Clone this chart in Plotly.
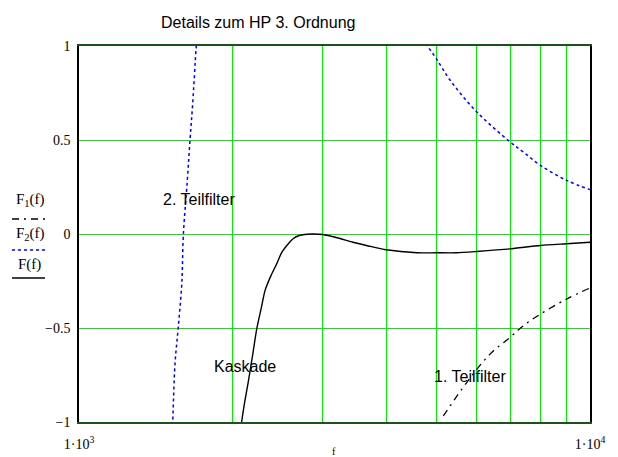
import plotly.graph_objects as go

# ---- data ----
f_F = [2060, 2081, 2108, 2145, 2185, 2227, 2271, 2312, 2376, 2437, 2491, 2568, 2624, 2700,
       2850, 3000, 3200, 3437, 3700, 3990, 4585, 5000, 5483, 6000, 6973, 8000, 9000, 10000]
F = [-1.1, -1.0, -0.9, -0.784, -0.65, -0.506, -0.4, -0.301, -0.22, -0.159, -0.1, -0.052,
     -0.025, -0.008, 0.0, -0.003, -0.02, -0.044, -0.065, -0.084, -0.1, -0.1, -0.1, -0.093,
     -0.079, -0.061, -0.052, -0.044]

f_F1 = [5164, 5737, 6373, 6973, 7404, 8000, 9000, 10000]
F1 = [-0.968, -0.79, -0.639, -0.55, -0.488, -0.426, -0.346, -0.287]

f_F2a = [1520, 1525, 1541, 1564, 1589, 1600, 1629, 1649, 1669, 1694, 1700]
F2a = [-1.05, -1.0, -0.692, -0.497, -0.266, -0.008, 0.285, 0.499, 0.694, 0.979, 1.03]
f_F2b = [4700, 4827, 5000, 5321, 6000, 6973, 7404, 8000, 9000, 10000]
F2b = [1.04, 0.993, 0.934, 0.819, 0.65, 0.49, 0.436, 0.365, 0.285, 0.236]

x_grid = [1000, 2000, 3000, 4000, 5000, 6000, 7000, 8000, 9000, 10000]
x_ticktext = ["1\u00b710<sup>3</sup>", "", "", "", "", "", "", "", "", "1\u00b710<sup>4</sup>"]
y_ticks = [-1, -0.5, 0, 0.5, 1]
y_ticktext = ["\u22121", "\u22120.5", "0", "0.5", "1"]

# page has an 8px body margin; work in page pixels and convert
OFF = 8
W, H = 618 - OFF, 457 - OFF
L, R, T, B = 79 - OFF, 590 - OFF, 46 - OFF, 422 - OFF

def px(x):
    return (x - OFF - L) / (R - L)

def py(y):
    return (B - (y - OFF)) / (B - T)

fig = go.Figure()
fig.add_trace(go.Scatter(x=f_F2a, y=F2a, mode="lines",
                         line=dict(color="#0000ff", width=1.5, dash="3px,3px", shape="spline")))
fig.add_trace(go.Scatter(x=f_F2b, y=F2b, mode="lines",
                         line=dict(color="#0000ff", width=1.5, dash="3px,3px", shape="spline")))
fig.add_trace(go.Scatter(x=f_F1, y=F1, mode="lines",
                         line=dict(color="black", width=1.3, dash="7px,5px,2px,5px", shape="spline")))
fig.add_trace(go.Scatter(x=f_F, y=F, mode="lines",
                         line=dict(color="black", width=1.4, shape="spline", smoothing=0.6)))

serif = "Liberation Serif"
sans = "Liberation Sans"

fig.update_xaxes(type="log", range=[3, 4], tickvals=x_grid, ticktext=x_ticktext,
                 showgrid=True, gridcolor="#00ee00", gridwidth=1.2,
                 showline=True, linecolor="#1f4f1f", linewidth=1.5, mirror=True,
                 ticks="", ticklabelstandoff=8, automargin=False,
                 tickfont=dict(family=serif, size=14, color="black"),
                 zeroline=False)
fig.update_yaxes(range=[-1, 1], tickvals=y_ticks, ticktext=y_ticktext,
                 showgrid=True, gridcolor="#00ee00", gridwidth=1.2,
                 showline=True, linecolor="black", linewidth=1.5, mirror=True,
                 ticks="", ticklabelstandoff=4, automargin=False,
                 tickfont=dict(family=serif, size=14, color="black"),
                 zeroline=False)

ann = []
def text(x, y, s, size, family, **kw):
    ann.append(dict(x=px(x), y=py(y), xref="paper", yref="paper", text=s, showarrow=False,
                    font=dict(family=family, size=size, color="black"),
                    xanchor="center", yanchor="middle", **kw))

text(258, 22, "Details zum HP 3. Ordnung", 16, sans)
text(199, 199, "2. Teilfilter", 16, sans)
text(245, 366, "Kaskade", 16, sans)
text(470, 376, "1. Teilfilter", 16, sans)
text(30, 200, "F<sub>1</sub>(f)", 15, serif)
text(30, 234, "F<sub>2</sub>(f)", 15, serif)
text(29, 264, "F(f)", 15, serif)
text(334, 451, "f", 10, serif)

shapes = [
    dict(type="line", xref="paper", yref="paper", x0=px(12), x1=px(45), y0=py(219), y1=py(219),
         line=dict(color="black", width=1.5, dash="7px,5px,2px,5px")),
    dict(type="line", xref="paper", yref="paper", x0=px(12), x1=px(45), y0=py(250), y1=py(250),
         line=dict(color="#0000ff", width=1.5, dash="3px,3px")),
    dict(type="line", xref="paper", yref="paper", x0=px(12), x1=px(45), y0=py(278), y1=py(278),
         line=dict(color="black", width=1.5)),
]

fig.update_layout(width=W, height=H, margin=dict(l=L, r=W - R, t=T, b=H - B, autoexpand=False),
                  paper_bgcolor="white", plot_bgcolor="white",
                  annotations=ann, shapes=shapes, showlegend=False)

fig.write_html("out.html")
